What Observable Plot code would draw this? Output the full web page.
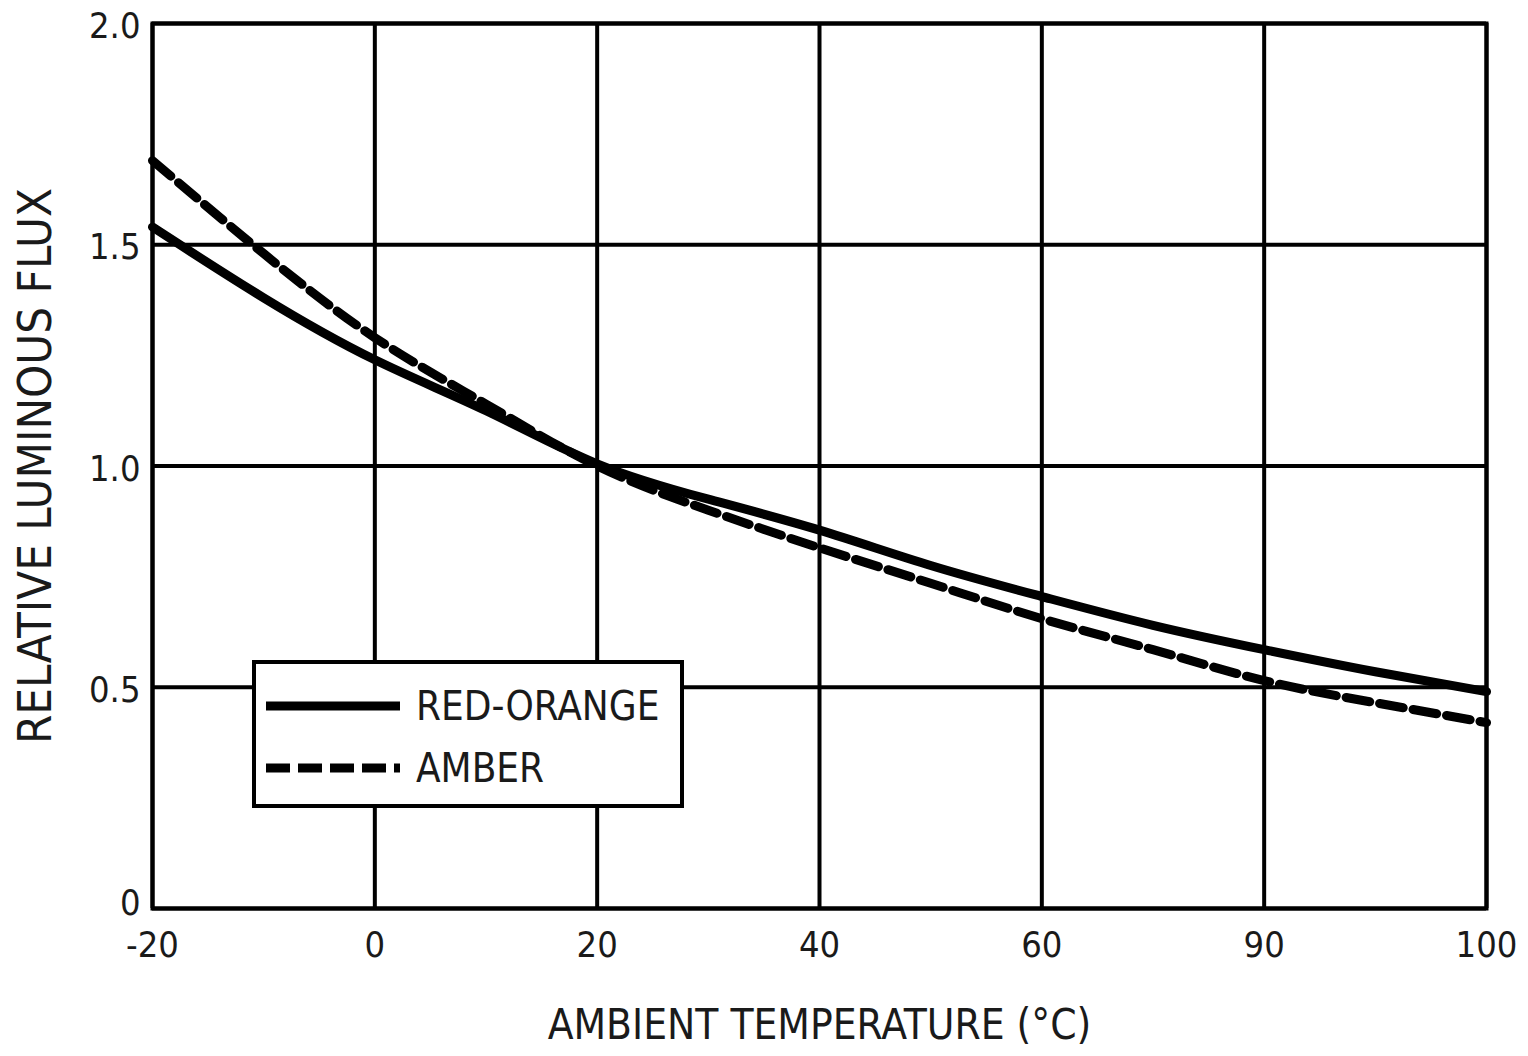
<!DOCTYPE html>
<html>
<head>
<meta charset="utf-8">
<script src="https://cdn.jsdelivr.net/npm/d3@7"></script>
<script src="https://cdn.jsdelivr.net/npm/@observablehq/plot@0.6"></script>
<style>
  html, body { margin: 0; padding: 0; background: #fff; }
  #wrap { position: relative; width: 1528px; height: 1056px; }
  .lg { position: absolute; left: 252px; top: 660px; width: 424px; height: 140px;
        border: 4px solid #000; background: #fff; box-sizing: content-box;
        font-family: "Liberation Sans Narrow", "DejaVu Sans Condensed", sans-serif; color: #1a1a1a; }
  .row { position: absolute; left: 10px; display: flex; align-items: center; font-size: 40px; }
  .row svg { margin-right: 16px; }
</style>
</head>
<body>
<div id="wrap"></div>
<script>
// ---- data ----
const temps = [-20, -10, 0, 10, 20, 30, 40, 50, 60, 70, 80, 90, 100];
const redOrange = [1.54, 1.38, 1.24, 1.125, 1.005, 0.925, 0.855, 0.775, 0.705, 0.64, 0.585, 0.535, 0.49];
const amber     = [1.69, 1.48, 1.29, 1.14, 1.0, 0.90, 0.815, 0.735, 0.655, 0.585, 0.515, 0.465, 0.42];
const seriesNames = ["RED-ORANGE", "AMBER"];
const xTicks = [-20, 0, 20, 40, 60, 80, 100];
const xTickLabels = ["-20", "0", "20", "40", "60", "90", "100"];
const yTicks = [0, 0.5, 1.0, 1.5, 2.0];
const yTickLabels = ["0", "0.5", "1.0", "1.5", "2.0"];
const xTitle = "AMBIENT TEMPERATURE (°C)";
const yTitle = "RELATIVE LUMINOUS FLUX";

const redData = temps.map((t, i) => ({t, v: redOrange[i]}));
const amberData = temps.map((t, i) => ({t, v: amber[i]}));

const font = '"Liberation Sans Narrow", "DejaVu Sans Condensed", sans-serif';
const yFmt = (d) => yTickLabels[yTicks.indexOf(d)];

const chart = Plot.plot({
  width: 1528,
  height: 1056,
  marginLeft: 152,
  marginRight: 42,
  marginTop: 23,
  marginBottom: 148,
  style: { fontFamily: font, fontSize: "36px", color: "#1a1a1a", background: "#fff" },
  x: { domain: [-20, 100] },
  y: { domain: [0, 2] },
  marks: [
    Plot.gridX(xTicks, { stroke: "#000", strokeOpacity: 1, strokeWidth: 4 }),
    Plot.gridY(yTicks, { stroke: "#000", strokeOpacity: 1, strokeWidth: 4 }),
    Plot.line(redData, { x: "t", y: "v", curve: "natural", stroke: "#000", strokeWidth: 9 }),
    Plot.line(amberData, { x: "t", y: "v", curve: "natural", stroke: "#000", strokeWidth: 9, strokeDasharray: "24,10" }),
    Plot.frame({ stroke: "#000", strokeWidth: 4 }),
    Plot.axisX(xTicks, { tickSize: 0, tickPadding: 23, label: null,
      tickFormat: (d) => xTickLabels[xTicks.indexOf(d)] }),
    Plot.axisY(yTicks.slice(1), { tickSize: 0, tickPadding: 12, dy: 3, label: null, tickFormat: yFmt }),
    Plot.axisY(yTicks.slice(0, 1), { tickSize: 0, tickPadding: 12, dy: -5, label: null, tickFormat: yFmt }),
    Plot.text([xTitle], { text: d => d, frameAnchor: "bottom", dy: 130, fontSize: 42, fill: "#1a1a1a" }),
    Plot.text([yTitle], { text: d => d, frameAnchor: "left", textAnchor: "middle", dx: -117, rotate: -90, fontSize: 47, fill: "#1a1a1a" })
  ]
});

const wrap = document.getElementById("wrap");
wrap.appendChild(chart);

// legend overlay
const lg = document.createElement("div");
lg.className = "lg";
const rows = [
  { name: seriesNames[0], dash: null, top: 19 },
  { name: seriesNames[1], dash: "24,8", top: 81 }
];
rows.forEach(r => {
  const row = document.createElement("div");
  row.className = "row";
  row.style.top = r.top + "px";
  row.innerHTML = `<svg width="134" height="14"><line x1="0" y1="7" x2="134" y2="7" stroke="#000" stroke-width="9" ${r.dash ? `stroke-dasharray="${r.dash}"` : ""}/></svg><span>${r.name}</span>`;
  lg.appendChild(row);
});
wrap.appendChild(lg);
</script>
</body>
</html>
